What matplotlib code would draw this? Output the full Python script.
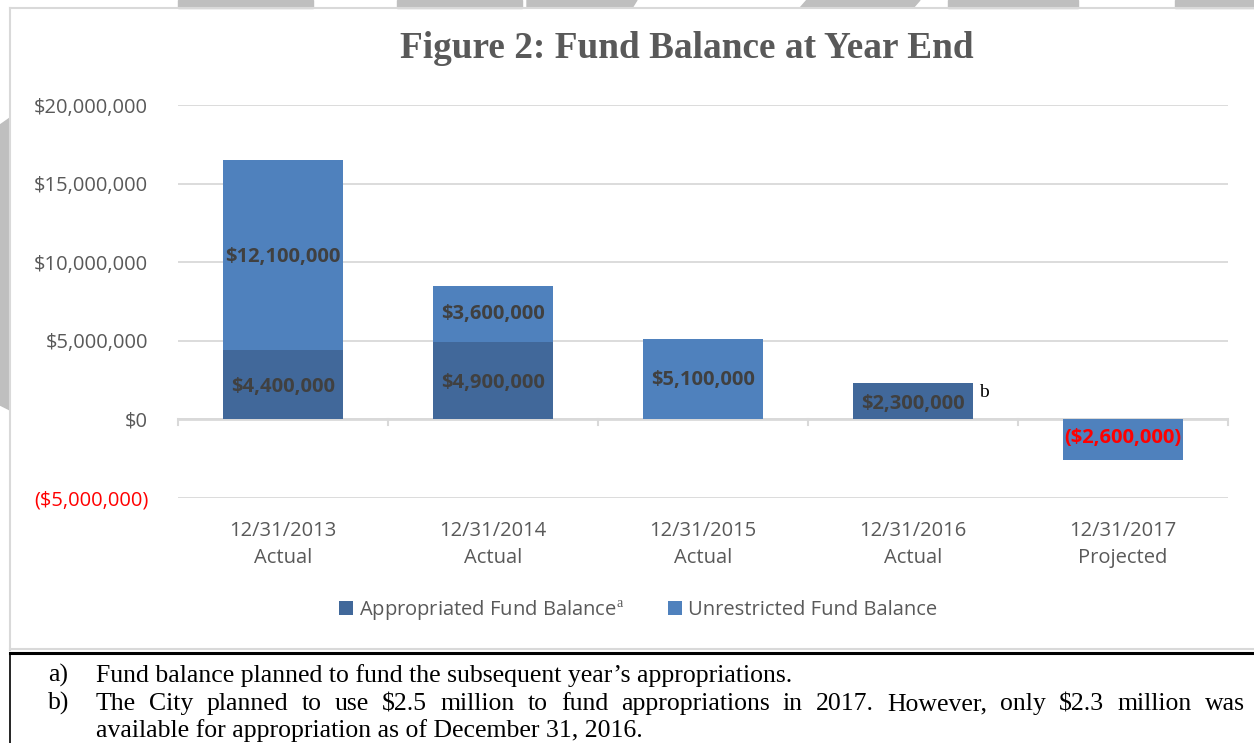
import matplotlib
matplotlib.use("Agg")
import matplotlib.pyplot as plt
from matplotlib.patches import Rectangle, Polygon
from matplotlib.lines import Line2D
import numpy as np

# data (dollars)
dates = ["12/31/2013", "12/31/2014", "12/31/2015", "12/31/2016", "12/31/2017"]
kinds = ["Actual", "Actual", "Actual", "Actual", "Projected"]
appropriated = [4400000, 4900000, 0, 2300000, 0]
unrestricted = [12100000, 3600000, 5100000, 0, -2600000]

note_a = "Fund balance planned to fund the subsequent year\u2019s appropriations."
note_b1 = "The City planned to use \\$2.5 million to fund appropriations in 2017. However, only \\$2.3 million was"
note_b2 = "available for appropriation as of December 31, 2016."

dark = "#41689A"
light = "#4F81BD"
txt = "#404040"

plt.rcParams["mathtext.fontset"] = "custom"
plt.rcParams["mathtext.rm"] = "Liberation Serif"
sans = "Open Sans"
serif = "Liberation Serif"
fs = 14.5

W, H = 1254, 743
fig = plt.figure(figsize=(W / 100, H / 100), dpi=100)

def fx(px):
    return px / W

def fy(py):
    return 1 - py / H

# page background bits (gray shapes around the chart frame)
gray = "#BFBFBF"
for x0, x1 in [(178, 313), (397, 522), (948, 1078), (1175, 1310)]:
    fig.patches.append(Rectangle((fx(x0), fy(8)), fx(x1 - x0), 8 / H,
                                 transform=fig.transFigure, color=gray, zorder=0))
fig.patches.append(Polygon([(fx(527), fy(0)), (fx(637), fy(0)), (fx(632), fy(8)), (fx(527), fy(8))],
                           transform=fig.transFigure, color=gray, zorder=0))
fig.patches.append(Polygon([(fx(807), fy(0)), (fx(920), fy(0)), (fx(913), fy(8)), (fx(800), fy(8))],
                           transform=fig.transFigure, color=gray, zorder=0))
fig.patches.append(Polygon([(0, fy(125)), (fx(10), fy(118)), (fx(10), fy(410)), (0, fy(405))],
                           transform=fig.transFigure, color=gray, zorder=0))

# chart frame
fig.add_artist(Line2D([fx(10), fx(10)], [fy(8), fy(650)], color="#D9D9D9", lw=1.5))
fig.add_artist(Line2D([fx(10), 1], [fy(8), fy(8)], color="#D9D9D9", lw=1.5))
fig.add_artist(Line2D([fx(10), 1], [fy(649), fy(649)], color="#D9D9D9", lw=1.5))
# footnote box
fig.add_artist(Line2D([fx(10), 1], [fy(653), fy(653)], color="black", lw=2.2))
fig.add_artist(Line2D([fx(10), fx(10)], [fy(653), 0], color="black", lw=1.2))

ax = fig.add_axes([fx(178), fy(498), fx(1228 - 178), (498 - 105) / H])
x = np.arange(len(dates))
bw = 0.57
ax.bar(x, appropriated, bw, color=dark, label="Appropriated Fund Balance$^{\\mathrm{a}}$", zorder=3)
ax.bar(x, unrestricted, bw, bottom=appropriated, color=light, label="Unrestricted Fund Balance", zorder=3)

ax.set_xlim(-0.5, len(dates) - 0.5)
ax.set_ylim(-5000000, 20000000)
ticks = np.arange(-5000000, 20000001, 5000000)
ax.set_yticks(ticks)
labels = []
for t in ticks:
    labels.append("(${:,.0f})".format(-t) if t < 0 else "${:,.0f}".format(t))
ax.set_yticklabels(labels, fontsize=fs, family=sans, color="#595959")
for lab, t in zip(ax.get_yticklabels(), ticks):
    if t < 0:
        lab.set_color("red")
ax.tick_params(axis="y", length=0, pad=21.5)
ax.grid(axis="y", color="#D9D9D9", lw=1.3, zorder=0)
ax.axhline(0, color="#D9D9D9", lw=2, zorder=1)
ax.set_xticks([])
for b in np.arange(-0.5, len(dates), 1):
    ax.plot([b, b], [0, -380000], color="#D9D9D9", lw=1.5, zorder=1, clip_on=False)
for i in range(len(dates)):
    ax.text(i, -6450000, dates[i] + "\n" + kinds[i], ha="center", va="top",
            fontsize=fs, family=sans, color="#595959", linespacing=1.45)
for s in ax.spines.values():
    s.set_visible(False)

# bar value labels
for i in range(len(dates)):
    a = appropriated[i]
    u = unrestricted[i]
    if a:
        ax.text(i, a / 2 - 150000, "${:,.0f}".format(a), ha="center", va="center",
                fontsize=fs, family=sans, weight="bold", color=txt, zorder=4)
    if u > 0:
        ypos = a + u / 2
        if i == 0:
            ypos = 10300000
        elif i == 2:
            ypos = 2500000
        ax.text(i, ypos, "${:,.0f}".format(u), ha="center", va="center",
                fontsize=fs, family=sans, weight="bold", color=txt, zorder=4)
    elif u < 0:
        ax.text(i, u / 2 + 100000, "(${:,.0f})".format(-u), ha="center", va="center",
                fontsize=fs, family=sans, weight="bold", color="red", zorder=4)
ax.text(3 + bw / 2 + 0.03, 1700000, "b", ha="left", va="center", fontsize=14, family=serif, color="black")

fig.text(fx(687), fy(48), "Figure 2: Fund Balance at Year End", ha="center", va="center",
         fontsize=26.8, family=serif, weight="bold", color="#595959")

leg = fig.legend(loc="center", bbox_to_anchor=(fx(638), fy(610)), ncol=2, frameon=False,
                 prop={"family": sans, "size": fs}, handlelength=0.7, handleheight=0.7,
                 handletextpad=0.3, columnspacing=2.2)
for t in leg.get_texts():
    t.set_color("#595959")

# footnotes
nfs = 18.5
renderer = fig.canvas.get_renderer()

def justify(line, x0, x1, y):
    words = line.split(" ")
    arts = [fig.text(0, fy(y), w, fontsize=nfs, family=serif, va="baseline") for w in words]
    widths = [a.get_window_extent(renderer).width for a in arts]
    gap = (x1 - x0 - sum(widths)) / (len(words) - 1)
    pos = x0
    for a, w in zip(arts, widths):
        a.set_x(fx(pos))
        pos += w + gap

fig.text(fx(48), fy(682), "a)", fontsize=nfs, family=serif, va="baseline")
fig.text(fx(96), fy(682), note_a, fontsize=nfs, family=serif, va="baseline")
fig.text(fx(48), fy(710), "b)", fontsize=nfs, family=serif, va="baseline")
justify(note_b1, 96, 1245, 710)
fig.text(fx(96), fy(737), note_b2, fontsize=nfs, family=serif, va="baseline")

fig.savefig("out.png", dpi=100)
